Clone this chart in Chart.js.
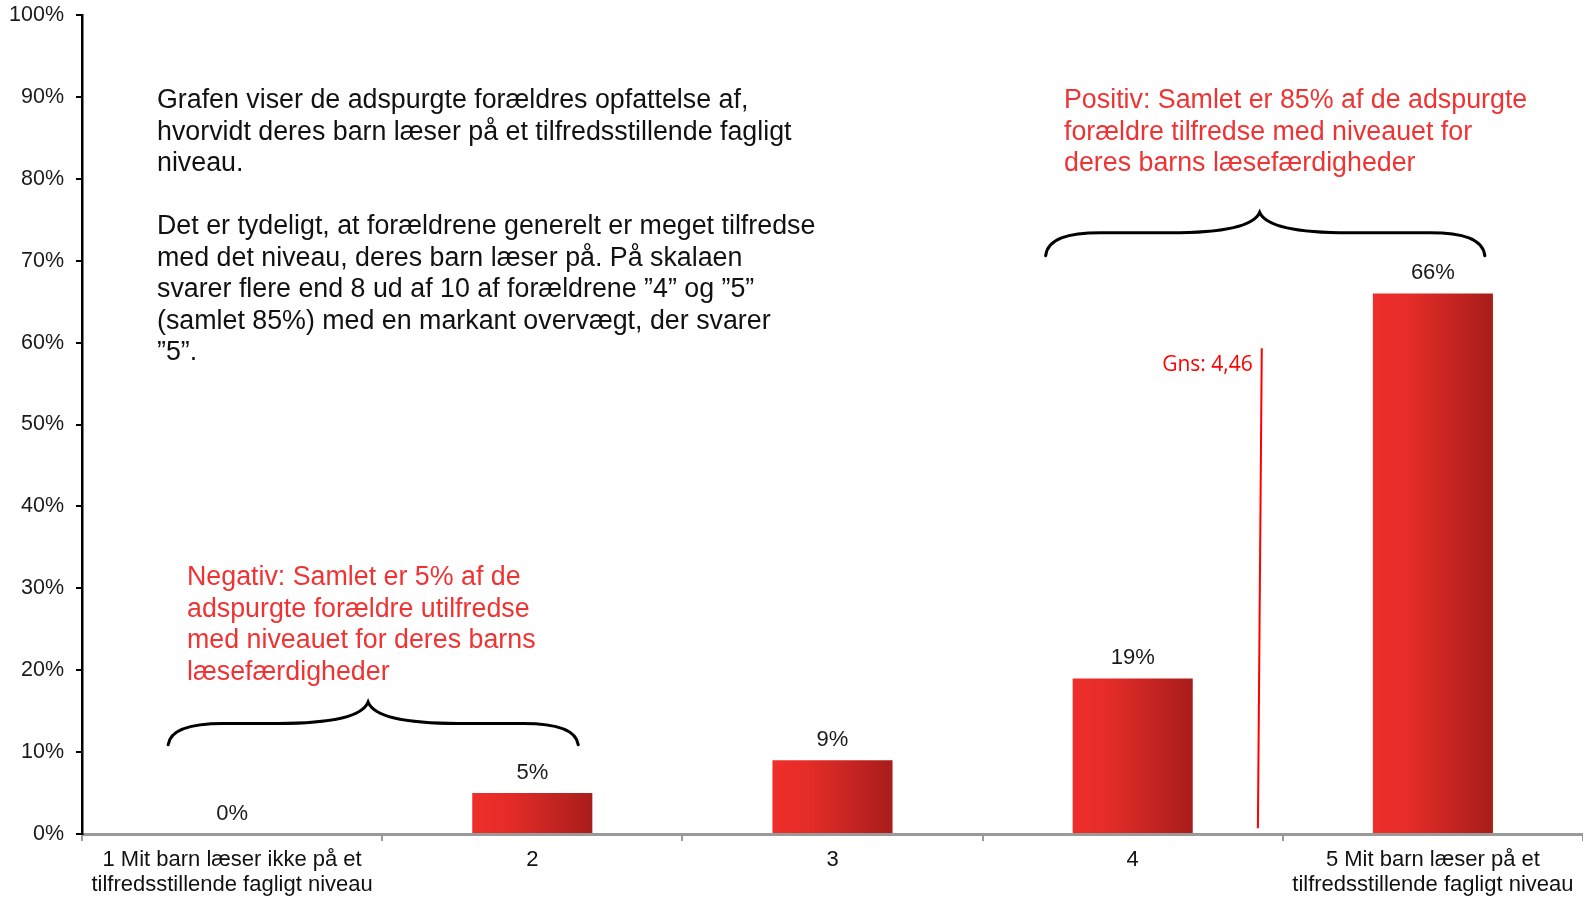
<!DOCTYPE html>
<html>
<head>
<meta charset="utf-8">
<script src="https://cdn.jsdelivr.net/npm/chart.js@4"></script>
<style>
  html, body { margin: 0; padding: 0; background: #fff; }
  #wrap { width: 1583px; height: 898px; }
</style>
</head>
<body>
<div id="wrap"><canvas id="chart"></canvas></div>
<script>
// data
const categories = [
    ['1 Mit barn læser ikke på et', 'tilfredsstillende fagligt niveau'],
    '2', '3', '4',
    ['5 Mit barn læser på et', 'tilfredsstillende fagligt niveau']
];
const shares = [0, 5, 9, 19, 66];
const yMax = 100;
const yStep = 10;

const introText = [
    'Grafen viser de adspurgte forældres opfattelse af,',
    'hvorvidt deres barn læser på et tilfredsstillende fagligt',
    'niveau.',
    '',
    'Det er tydeligt, at forældrene generelt er meget tilfredse',
    'med det niveau, deres barn læser på. På skalaen',
    'svarer flere end 8 ud af 10 af forældrene ”4” og ”5”',
    '(samlet 85%) med en markant overvægt, der svarer',
    '”5”.'
];
const positiveText = [
    'Positiv: Samlet er 85% af de adspurgte',
    'forældre tilfredse med niveauet for',
    'deres barns læsefærdigheder'
];
const negativeText = [
    'Negativ: Samlet er 5% af de',
    'adspurgte forældre utilfredse',
    'med niveauet for deres barns',
    'læsefærdigheder'
];
const averageLabel = 'Gns: 4,46';

const RED = '#ef3333';
const FONT = '"Liberation Sans", Arial, sans-serif';

// horizontal gradient on each bar
function barFill(ctx) {
    const chart = ctx.chart;
    const xs = chart.scales.x;
    if (!xs || ctx.type !== 'data') return '#d22a27';
    const cx = xs.getPixelForValue(ctx.dataIndex);
    const half = xs.width / categories.length * 0.4 / 2;
    if (!isFinite(cx) || !isFinite(half) || half <= 0) return '#d22a27';
    const g = chart.ctx.createLinearGradient(cx - half, 0, cx + half, 0);
    g.addColorStop(0, '#ef2e2a');
    g.addColorStop(0.3, '#e42c28');
    g.addColorStop(1, '#a81d1b');
    return g;
}

function drawBrace(c, xs, ys, x1, x2, xt, yEnd, yMid, yTip) {
    const a = xs.getPixelForValue(x1), b = xs.getPixelForValue(x2), t = xs.getPixelForValue(xt);
    const e = ys.getPixelForValue(yEnd), m = ys.getPixelForValue(yMid), p = ys.getPixelForValue(yTip);
    c.beginPath();
    c.moveTo(a, e);
    c.bezierCurveTo(a + 2, m + 6, a + 22, m, a + 55, m);
    c.lineTo(t - 90, m);
    c.bezierCurveTo(t - 40, m, t - 6, m - 6, t, p);
    c.bezierCurveTo(t + 6, m - 6, t + 40, m, t + 90, m);
    c.lineTo(b - 55, m);
    c.bezierCurveTo(b - 22, m, b - 2, m + 6, b, e);
    c.stroke();
}

const annotations = {
    id: 'annotations',
    afterDatasetsDraw(chart) {
        const c = chart.ctx;
        const xs = chart.scales.x, ys = chart.scales.y;
        c.save();

        // value labels
        c.fillStyle = '#1a1a1a';
        c.font = '22px ' + FONT;
        c.textAlign = 'center';
        c.textBaseline = 'alphabetic';
        chart.getDatasetMeta(0).data.forEach((bar, i) => {
            c.fillText(shares[i] + '%', bar.x, bar.y - 14);
        });

        // text blocks
        c.textAlign = 'left';
        c.textBaseline = 'middle';
        c.font = '26.8px ' + FONT;
        c.fillStyle = '#111';
        introText.forEach((s, i) => c.fillText(s, 157, 101 + i * 31.5));
        c.fillStyle = RED;
        positiveText.forEach((s, i) => c.fillText(s, 1064, 101 + i * 31.5));
        negativeText.forEach((s, i) => c.fillText(s, 187, 578 + i * 31.5));

        // braces
        c.strokeStyle = '#000';
        c.lineWidth = 3;
        c.lineCap = 'round';
        drawBrace(c, xs, ys, -0.213, 1.153, 0.453, 10.9, 13.5, 16.1);
        drawBrace(c, xs, ys, 2.71, 4.173, 3.423, 70.6, 73.4, 75.9);

        // average marker
        const tx = xs.getPixelForValue(3.43), ty = ys.getPixelForValue(59.3);
        const bx = xs.getPixelForValue(3.417), by = ys.getPixelForValue(0.7);
        c.strokeStyle = '#ff0000';
        c.lineWidth = 2;
        c.lineCap = 'butt';
        c.beginPath();
        c.moveTo(tx, ty);
        c.lineTo(bx, by);
        c.stroke();
        c.fillStyle = '#ff0000';
        c.font = '21px "Open Sans", sans-serif';
        c.textAlign = 'right';
        c.fillText(averageLabel, tx - 9, ty + 17);

        c.restore();
    }
};

new Chart(document.getElementById('chart'), {
    type: 'bar',
    data: {
        labels: categories,
        datasets: [{
            data: shares,
            backgroundColor: barFill,
            borderWidth: 0,
            categoryPercentage: 1,
            barPercentage: 0.4
        }]
    },
    options: {
        responsive: true,
        maintainAspectRatio: false,
        animation: false,
        layout: { padding: { top: 15, left: 0, right: 0, bottom: 0 } },
        plugins: {
            legend: { display: false },
            tooltip: { enabled: false }
        },
        scales: {
            x: {
                afterFit: s => { s.height = 64; s.paddingLeft = 0; s.paddingRight = 0; },
                grid: {
                    display: true,
                    drawOnChartArea: false,
                    offset: true,
                    tickLength: 7,
                    color: '#9a9a9a',
                    lineWidth: 2
                },
                border: { display: true, color: '#9a9a9a', width: 3 },
                ticks: {
                    color: '#111',
                    font: { family: FONT, size: 22, lineHeight: 1.15 },
                    padding: 6,
                    maxRotation: 0,
                    autoSkip: false
                }
            },
            y: {
                min: 0,
                max: yMax,
                afterFit: s => { s.width = 82; s.paddingTop = 0; s.paddingBottom = 0; },
                grid: {
                    display: true,
                    drawOnChartArea: false,
                    tickLength: 6,
                    color: '#000',
                    lineWidth: 2
                },
                border: { display: true, color: '#000', width: 2.5 },
                ticks: {
                    stepSize: yStep,
                    color: '#1a1a1a',
                    font: { family: FONT, size: 21.5 },
                    padding: 12,
                    callback: v => v + '%'
                }
            }
        }
    },
    plugins: [annotations]
});
</script>
</body>
</html>
